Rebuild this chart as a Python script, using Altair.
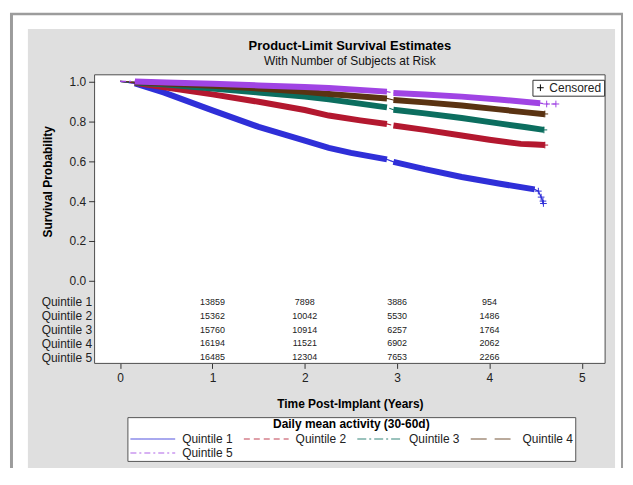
import altair as alt
import pandas as pd

# ---------------- data ----------------
quintiles = ["Quintile 1", "Quintile 2", "Quintile 3", "Quintile 4", "Quintile 5"]
line_colors = ["#2f2fd8", "#b3182f", "#0c6e5f", "#5a3312", "#a044e4"]
dash_patterns = [[1, 0], [6, 4], [9, 3, 2, 3], [16, 8], [6, 3, 2, 3]]

# Kaplan-Meier estimates (years, survival probability)
q1_t = [0.0, 0.16, 0.47, 1.0, 1.5, 2.0, 2.26, 2.5, 2.89, 2.96, 3.3, 3.7, 4.1, 4.49, 4.53, 4.55, 4.57, 4.58]
q1_s = [1.0, 0.99, 0.945, 0.855, 0.772, 0.703, 0.667, 0.642, 0.609, 0.597, 0.560, 0.521, 0.488, 0.459, 0.45, 0.43, 0.41, 0.39]
q2_t = [0.0, 0.16, 0.5, 1.0, 1.5, 2.0, 2.26, 2.6, 2.89, 2.96, 3.3, 3.7, 4.0, 4.34, 4.5, 4.6]
q2_s = [1.0, 0.993, 0.97, 0.935, 0.898, 0.857, 0.829, 0.805, 0.787, 0.779, 0.757, 0.729, 0.708, 0.687, 0.684, 0.681]
q3_t = [0.0, 0.16, 0.5, 1.0, 1.5, 2.0, 2.26, 2.89, 2.96, 3.3, 3.7, 4.1, 4.4, 4.59]
q3_s = [1.0, 0.995, 0.985, 0.965, 0.945, 0.925, 0.910, 0.870, 0.858, 0.840, 0.817, 0.790, 0.770, 0.757]
q4_t = [0.0, 0.16, 0.5, 1.0, 1.5, 2.0, 2.26, 2.89, 2.96, 3.3, 3.7, 4.1, 4.4, 4.6]
q4_s = [1.0, 0.997, 0.99, 0.978, 0.965, 0.948, 0.937, 0.915, 0.907, 0.895, 0.879, 0.86, 0.845, 0.836]
q5_t = [0.0, 0.16, 0.5, 1.0, 1.5, 2.0, 2.26, 2.89, 2.96, 3.3, 3.7, 4.1, 4.55, 4.62, 4.72]
q5_s = [1.0, 1.0, 0.995, 0.988, 0.980, 0.972, 0.967, 0.949, 0.942, 0.935, 0.924, 0.91, 0.891, 0.887, 0.887]

# dense-censoring bands (where the + marks merge into a thick band)
band_start = [0.16, 0.16, 0.16, 0.16, 0.16]
gap_start = [2.89, 2.89, 2.89, 2.89, 2.89]
gap_end = [2.96, 2.96, 2.96, 2.96, 2.96]
band_end = [4.49, 4.6, 4.59, 4.6, 4.55]

# isolated censored observations at the end of follow-up
cens_q = ["Quintile 1", "Quintile 1", "Quintile 1", "Quintile 1", "Quintile 2",
          "Quintile 3", "Quintile 4", "Quintile 5", "Quintile 5"]
cens_t = [4.53, 4.56, 4.58, 4.585, 4.60, 4.59, 4.60, 4.62, 4.72]
cens_s = [0.45, 0.42, 0.40, 0.388, 0.681, 0.757, 0.837, 0.887, 0.887]

# number of subjects at risk
risk_times = [1, 2, 3, 4]
risk_q1 = [13859, 7898, 3886, 954]
risk_q2 = [15362, 10042, 5530, 1486]
risk_q3 = [15760, 10914, 6257, 1764]
risk_q4 = [16194, 11521, 6902, 2062]
risk_q5 = [16485, 12304, 7653, 2266]

# ---------------- tables ----------------
curve_t = [q1_t, q2_t, q3_t, q4_t, q5_t]
curve_s = [q1_s, q2_s, q3_s, q4_s, q5_s]
risk = [risk_q1, risk_q2, risk_q3, risk_q4, risk_q5]

rows, band_rows, risk_rows = [], [], []
for i, q in enumerate(quintiles):
    for t, s in zip(curve_t[i], curve_s[i]):
        rows.append({"q": q, "t": t, "s": s})
        if band_start[i] <= t <= gap_start[i]:
            band_rows.append({"q": q, "t": t, "s": s, "seg": q + "a", "hex": line_colors[i]})
        elif gap_end[i] <= t <= band_end[i]:
            band_rows.append({"q": q, "t": t, "s": s, "seg": q + "b", "hex": line_colors[i]})
    for t, n in zip(risk_times, risk[i]):
        risk_rows.append({"q": q, "t": t, "n": n})

curves = pd.DataFrame(rows)
bands = pd.DataFrame(band_rows)
risks = pd.DataFrame(risk_rows)
cens = pd.DataFrame({"q": cens_q, "t": cens_t, "s": cens_s,
                     "hex": [line_colors[quintiles.index(q)] for q in cens_q],
                     "kind": ["Censored"] * len(cens_q)})
one = pd.DataFrame({"k": [0]})

FONT = "Liberation Sans"
W, H = 513, 290
xscale = alt.Scale(domain=[-0.277, 5.253], nice=False, zero=False)
yscale = alt.Scale(domain=[-0.414, 1.0334], nice=False, zero=False)

# ---------------- decorations (page frame, grey panel, plot box) ----------------
BOT = 395
RIGHT = 531
bg = alt.Chart(one).mark_rect(color="white").encode(
    x=alt.value(-86), x2=alt.value(RIGHT), y=alt.value(-66), y2=alt.value(BOT))
frame_l = alt.Chart(one).mark_rule(color="#9c9c9c", strokeWidth=3).encode(
    x=alt.value(-83.5), y=alt.value(-61), y2=alt.value(BOT))
frame_t = alt.Chart(one).mark_rule(color="#9c9c9c", strokeWidth=2.5).encode(
    x=alt.value(-85), x2=alt.value(RIGHT), y=alt.value(-61))
frame_r = alt.Chart(one).mark_rule(color="#9c9c9c", strokeWidth=2).encode(
    x=alt.value(RIGHT - 1), y=alt.value(-61), y2=alt.value(BOT))
panel = alt.Chart(one).mark_rect(color="#dfdfdf").encode(
    x=alt.value(-67), x2=alt.value(523), y=alt.value(-46), y2=alt.value(BOT))
plotbox = alt.Chart(one).mark_rect(fill="white", stroke="#4d4d4d", strokeWidth=1).encode(
    x=alt.value(0), x2=alt.value(W), y=alt.value(0), y2=alt.value(H))

# ---------------- curves ----------------
leg = alt.Legend(
    title="Daily mean activity (30-60d)", orient="none", legendX=33, legendY=344,
    direction="horizontal", columns=4, columnPadding=8, rowPadding=0,
    symbolType="M-1,0L5.43,0", symbolSize=196, symbolStrokeWidth=1.5, symbolOpacity=0.55,
    labelFontSize=12, labelOffset=37, labelColor="#222", labelFont=FONT,
    titleAnchor="middle", titleFontSize=12, titleFontWeight="bold", titleColor="#000",
    titleFont=FONT, titlePadding=0, padding=2, strokeColor="#555", fillColor="white",
    zindex=1)

thin = alt.Chart(curves).mark_line(strokeWidth=1.2).encode(
    x=alt.X("t:Q", scale=xscale, axis=alt.Axis(
        values=[0, 1, 2, 3, 4, 5], format="d", grid=False, domain=False,
        tickSize=5, tickColor="#333", labelFontSize=12, labelPadding=4,
        labelColor="#222", labelFlush=False, title="Time Post-Implant (Years)",
        titleFontSize=12, titleFontWeight="bold", titleColor="#000",
        titleY=40, titleBaseline="middle", zindex=1)),
    y=alt.Y("s:Q", scale=yscale, axis=alt.Axis(
        values=[0, 0.2, 0.4, 0.6, 0.8, 1.0], format=".1f", grid=False, domain=False,
        tickSize=6, tickColor="#333", labelFontSize=12, labelPadding=3,
        labelColor="#222", title="Survival Probability", titleFontSize=12,
        titleFontWeight="bold", titleColor="#000", titleX=-47, titleY=107,
        titleAlign="center", titleBaseline="middle", zindex=1)),
    color=alt.Color("q:N", scale=alt.Scale(domain=quintiles, range=line_colors), legend=leg),
    strokeDash=alt.StrokeDash("q:N", scale=alt.Scale(domain=quintiles, range=dash_patterns), legend=leg),
)

band = alt.Chart(bands).mark_line(strokeWidth=6, strokeCap="butt").encode(
    x=alt.X("t:Q", scale=xscale),
    y=alt.Y("s:Q", scale=yscale),
    stroke=alt.Stroke("hex:N", scale=None),
    detail="seg:N",
    order="t:Q",
)

plus_path = "M-1,0L1,0M0,-1L0,1"
pts = alt.Chart(cens).mark_point(filled=False, size=45, strokeWidth=1, opacity=1).encode(
    x=alt.X("t:Q", scale=xscale),
    y=alt.Y("s:Q", scale=yscale),
    stroke=alt.Stroke("hex:N", scale=None),
    shape=alt.Shape("kind:N", scale=alt.Scale(domain=["Censored"], range=[plus_path]),
                    legend=alt.Legend(title=None, orient="none", legendX=440, legendY=5,
                                      symbolStrokeColor="black", symbolSize=45,
                                      symbolStrokeWidth=1, labelFontSize=12, labelOffset=3,
                                      labelColor="#222", labelFont=FONT, padding=2,
                                      strokeColor="#333", fillColor="white", zindex=1)),
)

inner = alt.layer(thin, band, pts)

table = alt.Chart(risks).mark_text(fontSize=9, color="#222", baseline="middle", font=FONT).encode(
    x=alt.X("t:Q", scale=xscale),
    y=alt.Y("q:N", scale=alt.Scale(type="point", domain=quintiles, range=[228, 284], padding=0),
            axis=alt.Axis(orient="left", title="", ticks=False, domain=False, labelFontSize=12,
                          labelPadding=3, labelColor="#222", zindex=1)),
    text="n:Q",
)

chart = alt.layer(bg, frame_l, frame_t, frame_r, panel, plotbox, inner, table).resolve_scale(
    y="independent"
).properties(
    width=W, height=H,
    title=alt.TitleParams(
        text="Product-Limit Survival Estimates", subtitle="With Number of Subjects at Risk",
        anchor="middle", frame="group", fontSize=13, fontWeight="bold", color="#000",
        subtitleFontSize=12, subtitleColor="#111", subtitlePadding=3, offset=-58,
        font=FONT, subtitleFont=FONT, zindex=1),
    padding={"left": 0, "top": 0, "right": 0, "bottom": 0},
    background="white",
).configure(font=FONT).configure_view(strokeWidth=0)

chart.save("out.html", embed_options={"renderer": "svg", "actions": False})
